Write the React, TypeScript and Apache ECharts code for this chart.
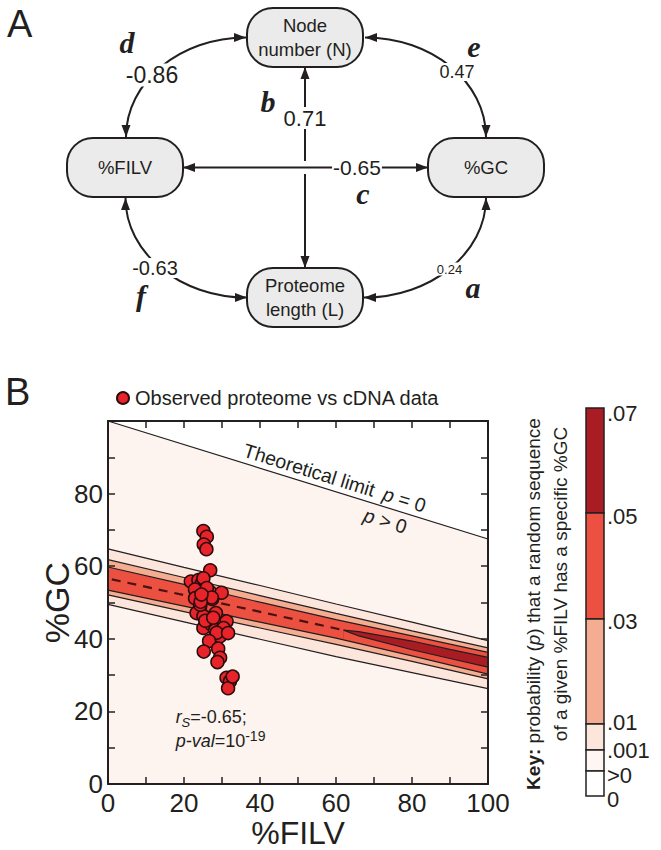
import React, { useEffect, useRef } from 'react';
import * as echarts from 'echarts';

// ---------- Panel A data ----------
const nodeLabels = ['Node\nnumber (N)', '%FILV', '%GC', 'Proteome\nlength (L)'];
const edgeLetters = ['a', 'b', 'c', 'd', 'e', 'f'];
const edgeRho = [0.24, 0.71, -0.65, -0.86, 0.47, -0.63];

// ---------- Panel B data ----------
const theoryFilv = [0, 100];
const theoryGc = [100, 67.5];

const filvGrid = [0, 20, 40, 60, 80, 100];
const c001Upper = [64.8, 59.7, 54.7, 49.6, 44.6, 39.5];
const c001Lower = [49.5, 44.7, 39.9, 35.1, 30.7, 26.3];
const c01Upper = [61.8, 56.9, 51.9, 47.0, 42.2, 37.5];
const c01Lower = [52.1, 47.5, 43.0, 38.5, 33.8, 29.0];
const c03Upper = [59.8, 55.0, 50.1, 45.3, 40.8, 36.3];
const c03Lower = [53.4, 49.0, 44.6, 40.2, 35.3, 30.3];
const filvGrid05 = [62, 66, 80, 90, 100];
const c05Upper = [42.4, 42.0, 39.4, 37.1, 34.9];
const c05Lower = [42.4, 40.8, 37.0, 34.6, 32.2];
const islandFilv = [1, 62];
const islandGc = [56.4, 42.4];

const obsFilv = [25.1, 26.0, 25.2, 25.9, 26.9, 21.8, 23.8, 24.7, 25.1, 23.8, 26.8, 23.2, 29.9, 27.4, 24.2,
  23.3, 25.1, 28.4, 22.9, 22.9, 24.3, 26.0, 27.3, 26.0, 25.1, 27.3, 31.2, 28.2, 30.4, 29.5,
  28.6, 31.6, 26.6, 25.2, 29.0, 29.5, 28.8, 31.2, 32.1, 31.6, 32.8, 24.4, 25.6, 27.7, 24.6];
const obsGc = [69.7, 68.1, 66.0, 64.7, 58.9, 55.8, 56.2, 55.3, 56.7, 53.4, 53.0, 51.6, 52.7, 51.0, 48.7,
  47.1, 46.2, 47.1, 53.6, 51.2, 49.4, 54.0, 51.4, 43.9, 43.0, 43.9, 44.8, 42.4, 43.0, 40.7,
  41.7, 41.6, 39.4, 36.5, 37.3, 34.8, 33.6, 29.3, 28.3, 26.4, 29.6, 50.2, 45.0, 45.8, 52.2];

const keyTicks = ['.07', '.05', '.03', '.01', '.001', '>0', '0'];

// ---------- styles ----------
const SANS = '"Liberation Sans", Arial, Helvetica, sans-serif';
const SERIF = '"Liberation Serif", "Times New Roman", serif';
const INK = '#231f20';
const BG = '#fdf3ef';
const C1 = '#fce5db';
const C2 = '#f5ad92';
const C3 = '#ec5040';
const C4 = '#a91c24';
const keyColors = [C4, C3, C2, C1, '#fef6f3', '#ffffff'];
const OBS_NAME = 'Observed proteome vs cDNA data';

const pairs = (xs: number[], ys: number[]) => xs.map((x, i) => [x, ys[i]]);

function bandSeries(name: string, xs: number[], ys: number[], fill: string) {
  return {
    type: 'line', name, data: pairs(xs, ys), symbol: 'none', showSymbol: false, silent: true,
    lineStyle: { color: INK, width: 1.2 },
    areaStyle: { color: fill, opacity: 1, origin: 'start' },
    emphasis: { disabled: true }, z: 2,
  };
}

function txt(x: number, y: number, text: string, extra: any = {}) {
  return {
    type: 'text', x, y, silent: true,
    style: {
      text, fontFamily: SANS, fontSize: 18, fill: INK,
      align: 'center', verticalAlign: 'middle', textAlign: 'center', textVerticalAlign: 'middle',
      ...extra,
    },
  };
}

function arrowHead(tx: number, ty: number, dx: number, dy: number, len = 12, half = 4.5) {
  const n = Math.hypot(dx, dy);
  const ux = dx / n, uy = dy / n;
  const bx = tx - ux * len, by = ty - uy * len;
  return {
    type: 'polygon', silent: true,
    shape: { points: [[tx, ty], [bx - uy * half, by + ux * half], [bx + uy * half, by - ux * half]] },
    style: { fill: INK },
  };
}

function panelA(): any[] {
  const els: any[] = [];
  const W = 116, H = 59;
  const centers = [[305, 37.5], [125, 167.5], [486, 167.5], [305, 297.5]];
  const curves = [
    { p0: [126, 137], c1: [126, 82], c2: [180, 37.5], p3: [246, 37.5] },   // d
    { p0: [365, 37.5], c1: [432, 37.5], c2: [486, 82], p3: [486, 137] },   // e
    { p0: [125.5, 198], c1: [125.5, 253], c2: [180, 297.5], p3: [247, 297.5] }, // f
    { p0: [486, 198], c1: [486, 253], c2: [431, 297.5], p3: [364, 297.5] }, // a
  ];
  curves.forEach((c) => {
    els.push({
      type: 'bezierCurve', silent: true,
      shape: { x1: c.p0[0], y1: c.p0[1], cpx1: c.c1[0], cpy1: c.c1[1], cpx2: c.c2[0], cpy2: c.c2[1], x2: c.p3[0], y2: c.p3[1] },
      style: { stroke: INK, lineWidth: 2, fill: null },
    });
    els.push(arrowHead(c.p0[0], c.p0[1], c.p0[0] - c.c1[0], c.p0[1] - c.c1[1]));
    els.push(arrowHead(c.p3[0], c.p3[1], c.p3[0] - c.c2[0], c.p3[1] - c.c2[1]));
  });
  els.push({ type: 'line', silent: true, shape: { x1: 305, y1: 67, x2: 305, y2: 268 }, style: { stroke: INK, lineWidth: 2 } });
  els.push(arrowHead(305, 67, 0, -1));
  els.push(arrowHead(305, 268, 0, 1));
  els.push({ type: 'rect', silent: true, shape: { x: 302, y: 161, width: 6, height: 13 }, style: { fill: '#fff' } });
  els.push({ type: 'line', silent: true, shape: { x1: 183, y1: 167.5, x2: 428, y2: 167.5 }, style: { stroke: INK, lineWidth: 2 } });
  els.push(arrowHead(183, 167.5, -1, 0));
  els.push(arrowHead(428, 167.5, 1, 0));
  centers.forEach((c, i) => {
    els.push({
      type: 'rect', silent: true,
      shape: { x: c[0] - W / 2, y: c[1] - H / 2, width: W, height: H, r: 26 },
      style: { fill: '#ebebeb', stroke: INK, lineWidth: 2 },
    });
    els.push(txt(c[0], c[1], nodeLabels[i], { fontSize: 18.5, lineHeight: 23.5 }));
  });
  const layout: Record<string, { letter: number[]; label: number[]; fs: number }> = {
    a: { letter: [473, 287], label: [449.5, 269], fs: 13 },
    b: { letter: [268, 101], label: [305, 118], fs: 22 },
    c: { letter: [363, 193], label: [357, 167], fs: 21 },
    d: { letter: [127, 42], label: [152, 75], fs: 23 },
    e: { letter: [474, 46], label: [457, 72], fs: 18 },
    f: { letter: [141, 295], label: [155, 268], fs: 20 },
  };
  edgeLetters.forEach((L, i) => {
    const g = layout[L];
    els.push(txt(g.label[0], g.label[1], String(edgeRho[i]), { fontSize: g.fs, lineHeight: g.fs, backgroundColor: '#fff', padding: [0, 1, 0, 1] }));
    els.push(txt(g.letter[0], g.letter[1], L, { fontFamily: SERIF, fontStyle: 'italic', fontWeight: 'bold', fontSize: 30, lineHeight: 16 }));
  });
  els.push(txt(7, 24, 'A', { fontSize: 38, align: 'left', textAlign: 'left' }));
  return els;
}

function panelBExtras(chart: any): any[] {
  const els: any[] = [];
  const px = (x: number, y: number) => chart.convertToPixel({ xAxisIndex: 0, yAxisIndex: 0 }, [x, y]);
  els.push(txt(5, 392, 'B', { fontSize: 38, align: 'left', textAlign: 'left' }));

  // y-axis title, centred on the axis
  const yMid = px(0, 50);
  els.push({
    type: 'text', silent: true, x: 57, y: yMid[1], rotation: Math.PI / 2,
    style: { text: '%GC', fontFamily: SANS, fontSize: 34, fill: INK, align: 'center', textAlign: 'center', verticalAlign: 'middle', textVerticalAlign: 'middle' },
  });

  const a = px(theoryFilv[0], theoryGc[0]);
  const b = px(theoryFilv[1], theoryGc[1]);
  const th = Math.atan2(b[1] - a[1], b[0] - a[0]);
  const gcAt = (f: number) => theoryGc[0] + (theoryGc[1] - theoryGc[0]) * (f - theoryFilv[0]) / (theoryFilv[1] - theoryFilv[0]);
  const nUp = [Math.sin(th), -Math.cos(th)];
  const place = (f: number, off: number) => {
    const p = px(f, gcAt(f));
    return [p[0] + nUp[0] * off, p[1] + nUp[1] * off];
  };
  const t1 = place(34.8, 3);
  els.push({
    type: 'text', silent: true, x: t1[0], y: t1[1], rotation: -th,
    style: { text: 'Theoretical limit', fontFamily: SANS, fontSize: 19.5, fill: INK, align: 'left', textAlign: 'left', verticalAlign: 'bottom', textVerticalAlign: 'bottom' },
  });
  const t2 = place(71.5, 3);
  els.push({
    type: 'text', silent: true, x: t2[0], y: t2[1], rotation: -th,
    style: {
      text: '{i|p} = 0', fontFamily: SANS, fontSize: 19.5, fill: INK, align: 'left', textAlign: 'left', verticalAlign: 'bottom', textVerticalAlign: 'bottom',
      rich: { i: { fontStyle: 'italic', fontFamily: SANS, fontSize: 19.5, fill: INK } },
    },
  });
  const t3 = place(68.5, -3);
  els.push({
    type: 'text', silent: true, x: t3[0], y: t3[1], rotation: -th,
    style: {
      text: '{i|p} > 0', fontFamily: SANS, fontSize: 19.5, fill: INK, align: 'left', textAlign: 'left', verticalAlign: 'top', textVerticalAlign: 'top',
      rich: { i: { fontStyle: 'italic', fontFamily: SANS, fontSize: 19.5, fill: INK } },
    },
  });

  const richStat = {
    it: { fontStyle: 'italic', fontFamily: SANS, fontSize: 18, lineHeight: 24, fill: INK },
    n: { fontFamily: SANS, fontSize: 18, lineHeight: 24, fill: INK },
    sub: { fontStyle: 'italic', fontFamily: SANS, fontSize: 13, lineHeight: 12, verticalAlign: 'bottom', fill: INK },
    sup: { fontFamily: SANS, fontSize: 14, lineHeight: 12, verticalAlign: 'top', fill: INK },
  };
  const s1 = px(17.8, 18.5);
  els.push({
    type: 'text', silent: true, x: s1[0], y: s1[1],
    style: { text: '{it|r}{sub|S}{n|=-0.65;}', rich: richStat, align: 'left', textAlign: 'left', verticalAlign: 'middle', textVerticalAlign: 'middle' },
  });
  const s2 = px(17.8, 12.0);
  els.push({
    type: 'text', silent: true, x: s2[0], y: s2[1],
    style: { text: '{it|p-val}{n|=10}{sup|-19}', rich: richStat, align: 'left', textAlign: 'left', verticalAlign: 'middle', textVerticalAlign: 'middle' },
  });

  const kx = 586, kw = 18;
  const ky = [408, 513, 619, 724, 750, 771, 796];
  for (let i = 0; i < keyColors.length; i++) {
    els.push({
      type: 'rect', silent: true,
      shape: { x: kx, y: ky[i], width: kw, height: ky[i + 1] - ky[i] },
      style: { fill: keyColors[i], stroke: INK, lineWidth: 1.5 },
    });
  }
  const labelDy = [5, 3, 2, -2, 0, 4, 3];
  keyTicks.forEach((t, i) => {
    els.push(txt(607, ky[i] + labelDy[i], t, { fontSize: 22, lineHeight: 17, align: 'left', textAlign: 'left' }));
  });
  els.push({
    type: 'text', silent: true, x: 533, y: 604, rotation: Math.PI / 2,
    style: {
      text: '{b|Key:} probability ({i|p}) that a random sequence', fontFamily: SANS, fontSize: 19, fill: INK,
      align: 'center', textAlign: 'center', verticalAlign: 'middle', textVerticalAlign: 'middle',
      rich: {
        b: { fontWeight: 'bold', fontFamily: SANS, fontSize: 19, fill: INK },
        i: { fontStyle: 'italic', fontFamily: SANS, fontSize: 19, fill: INK },
      },
    },
  });
  els.push({
    type: 'text', silent: true, x: 560, y: 584, rotation: Math.PI / 2,
    style: {
      text: 'of a given %FILV has a specific %GC', fontFamily: SANS, fontSize: 19, fill: INK,
      align: 'center', textAlign: 'center', verticalAlign: 'middle', textVerticalAlign: 'middle',
    },
  });
  return els;
}

function buildOption(): any {
  const axisCommon = {
    type: 'value', min: 0, max: 100, interval: 10, z: 10,
    axisLine: { show: true, onZero: false, lineStyle: { color: INK, width: 2 } },
    axisTick: { show: true, inside: true, length: 7, lineStyle: { color: INK, width: 1.5 } },
    splitLine: { show: false },
  };
  const labelBase = { fontFamily: SANS, fontSize: 26, color: INK };
  return {
    animation: false,
    backgroundColor: '#ffffff',
    textStyle: { fontFamily: SANS },
    grid: { left: 108, top: 421, width: 380, height: 367, show: false },
    legend: {
      data: [OBS_NAME], left: 111, top: 383, icon: 'circle', itemWidth: 12, itemHeight: 12, itemGap: 6,
      selectedMode: false,
      textStyle: { fontFamily: SANS, fontSize: 20, color: INK, padding: [0, 0, 0, 1] },
    },
    xAxis: [
      {
        ...axisCommon, position: 'bottom',
        axisLabel: { ...labelBase, margin: 6, formatter: (v: number) => (v % 20 === 0 ? String(v) : '') },
        name: '%FILV', nameLocation: 'middle', nameGap: 27,
        nameTextStyle: { fontFamily: SANS, fontSize: 32, color: INK },
      },
      { ...axisCommon, position: 'top', axisLabel: { show: false } },
    ],
    yAxis: [
      {
        ...axisCommon, position: 'left',
        axisLabel: { ...labelBase, margin: 5, formatter: (v: number) => (v % 20 === 0 && v < 100 ? String(v) : '') },
      },
      { ...axisCommon, position: 'right', axisLabel: { show: false } },
    ],
    series: [
      bandSeries('theory', theoryFilv, theoryGc, BG),
      bandSeries('c001u', filvGrid, c001Upper, C1),
      bandSeries('c01u', filvGrid, c01Upper, C2),
      bandSeries('c03u', filvGrid, c03Upper, C3),
      bandSeries('c05u', filvGrid05, c05Upper, C4),
      bandSeries('c05l', filvGrid05, c05Lower, C3),
      bandSeries('c03l', filvGrid, c03Lower, C2),
      bandSeries('c01l', filvGrid, c01Lower, C1),
      bandSeries('c001l', filvGrid, c001Lower, BG),
      {
        type: 'line', name: 'islands', data: pairs(islandFilv, islandGc), symbol: 'none', silent: true, z: 3,
        lineStyle: { color: '#4a1212', width: 2.2, type: [9, 7] }, emphasis: { disabled: true },
      },
      {
        type: 'scatter', name: OBS_NAME, data: pairs(obsFilv, obsGc), symbol: 'circle', symbolSize: 13, z: 5,
        itemStyle: { color: '#e8232a', borderColor: '#2a0c0c', borderWidth: 1.5, opacity: 1 },
        emphasis: { disabled: true },
      },
    ],
  };
}

export default function App() {
  const ref = useRef<HTMLDivElement>(null);
  useEffect(() => {
    if (!ref.current) return;
    const chart = echarts.init(ref.current, null, { renderer: 'svg' });
    chart.setOption(buildOption());
    const elements = [...panelA(), ...panelBExtras(chart)].map((e) => ({ ...e, z: 50 }));
    chart.setOption({ graphic: { elements } });
    return () => chart.dispose();
  }, []);
  return <div ref={ref} style={{ position: 'absolute', left: 0, top: 0, width: 661, height: 850, background: '#fff' }} />;
}
